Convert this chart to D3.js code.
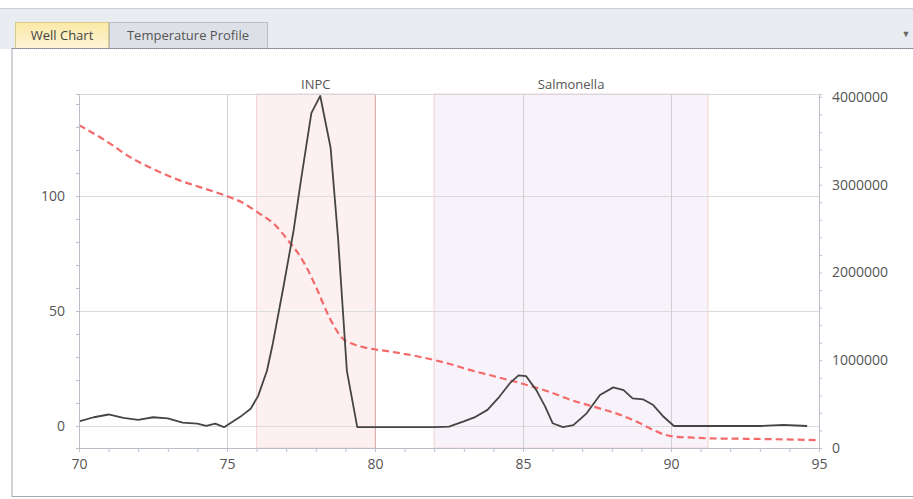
<!DOCTYPE html>
<html>
<head>
<meta charset="utf-8">
<script src="https://cdn.jsdelivr.net/npm/d3@7"></script>
<style>
  body { margin: 0; background: #fff; }
  svg { display: block; font-family: "Open Sans", "Noto Sans", sans-serif; }
</style>
</head>
<body>
<script>
// melt curve (left axis)
var meltX = [70, 70.5, 71, 71.5, 72, 72.5, 73, 73.5, 74, 74.3, 74.6, 74.9, 75.2, 75.5, 75.8, 76.05, 76.35, 76.55,
  76.9, 77.25, 77.5, 77.85, 78.15, 78.5, 78.75, 79.05, 79.4, 80, 81, 82, 82.5, 83, 83.4, 83.8, 84.2, 84.55,
  84.85, 85.1, 85.45, 85.75, 86.0, 86.35, 86.7, 87.15, 87.6, 88.05, 88.4, 88.7, 89.05, 89.4, 89.75, 90.1,
  91, 92, 93, 93.8, 94.6];
var meltY = [2, 3.8, 5, 3.5, 2.7, 3.8, 3.3, 1.5, 1, 0, 1, -0.5, 2, 4.5, 7.5, 13, 24, 36,
  60, 85, 107, 136, 143.5, 121, 82, 24, -0.5, -0.5, -0.5, -0.5, -0.3, 2, 4, 7, 12.7, 18.5,
  22, 21.7, 15.6, 8.4, 1.2, -0.5, 0.4, 5.5, 13.5, 16.8, 15.6, 12, 11.6, 9.1, 4, 0,
  0, 0, 0, 0.5, 0];

// fluorescence (right axis)
var fluoX = [70, 71, 71.7, 72.5, 73.4, 74.2, 75, 75.5, 76.1, 76.6, 77.1, 77.4, 77.7, 78.0, 78.5, 78.9, 79.3,
  79.6, 80.5, 81.5, 82.5, 83.2, 84, 84.9, 85.8, 86.6, 87.5, 88.3, 88.9, 89.4, 89.8, 90.1, 90.6, 91.3,
  92.5, 93.5, 94.9];
var fluoY = [3680000, 3480000, 3320000, 3180000, 3050000, 2960000, 2870000, 2800000, 2670000, 2550000, 2350000,
  2220000, 2050000, 1840000, 1460000, 1250000, 1180000, 1150000, 1100000, 1040000, 960000, 890000, 820000,
  740000, 650000, 550000, 460000, 376000, 290000, 205000, 150000, 130000, 120000, 110000, 105000, 100000, 90000];

// marked regions
var regionNames = ["INPC", "Salmonella"];
var regionStart = [76, 82];
var regionEnd = [80, 91.25];

var xTicks = [70, 75, 80, 85, 90, 95];
var leftTicks = [0, 50, 100];
var rightTicks = [0, 1000000, 2000000, 3000000, 4000000];

var width = 913, height = 499;
var svg = d3.select("body").append("svg")
    .attr("width", width)
    .attr("height", height);

// window chrome: gray bar, tabs, panel
svg.append("rect").attr("x", 0).attr("y", 8).attr("width", width).attr("height", 41).attr("fill", "#e9ecf0");
svg.append("line").attr("x1", 0).attr("x2", width).attr("y1", 8.5).attr("y2", 8.5).attr("stroke", "#c9cdd3");

var grad = svg.append("defs").append("linearGradient").attr("id", "tabGrad")
    .attr("x1", 0).attr("y1", 0).attr("x2", 0).attr("y2", 1);
grad.append("stop").attr("offset", "0%").attr("stop-color", "#fbe9a6");
grad.append("stop").attr("offset", "100%").attr("stop-color", "#fdf4d6");

svg.append("rect").attr("x", 15.5).attr("y", 22.5).attr("width", 93).attr("height", 26)
    .attr("fill", "url(#tabGrad)").attr("stroke", "#d8c98a");
svg.append("rect").attr("x", 109.5).attr("y", 22.5).attr("width", 158).attr("height", 26)
    .attr("fill", "#dde1e7").attr("stroke", "#b8bdc5");
svg.append("text").attr("x", 62).attr("y", 40).attr("text-anchor", "middle")
    .attr("font-size", 13).attr("fill", "#444").text("Well Chart");
svg.append("text").attr("x", 188).attr("y", 40).attr("text-anchor", "middle")
    .attr("font-size", 13).attr("fill", "#555").text("Temperature Profile");
svg.append("text").attr("x", 906).attr("y", 37).attr("text-anchor", "middle")
    .attr("font-size", 9).attr("fill", "#666").text("▼");

svg.append("rect").attr("x", 12).attr("y", 48.5).attr("width", width).attr("height", 448)
    .attr("fill", "#fff").attr("stroke", "#a3a8ae");
svg.append("line").attr("x1", 12).attr("x2", width).attr("y1", 48.5).attr("y2", 48.5)
    .attr("stroke", "#7f8590").attr("stroke-dasharray", "1,1");

// scales
var x = d3.scaleLinear().domain([70, 95]).range([79, 819]);
var yL = d3.scaleLinear().domain([-9.57, 144.35]).range([448, 94]);
var yR = d3.scaleLinear().domain([0, 4034000]).range([448, 94]);

var plot = svg.append("g");

// region bands
plot.selectAll(".band")
    .data(regionNames)
    .enter().append("rect")
    .attr("x", function(d, i) { return x(regionStart[i]); })
    .attr("y", yL.range()[1])
    .attr("width", function(d, i) { return x(regionEnd[i]) - x(regionStart[i]); })
    .attr("height", yL.range()[0] - yL.range()[1])
    .attr("fill", function(d, i) { return i == 0 ? "#fdf0f0" : "#f8f3fa"; })
    .attr("stroke", "#f3d2d2");

// grid
plot.selectAll(".hgrid")
    .data(leftTicks)
    .enter().append("line")
    .attr("x1", x(70)).attr("x2", x(95))
    .attr("y1", function(d) { return Math.round(yL(d)) + 0.5; })
    .attr("y2", function(d) { return Math.round(yL(d)) + 0.5; })
    .attr("stroke", "#dcdcdc");

plot.selectAll(".vgrid")
    .data([75, 80, 85, 90])
    .enter().append("line")
    .attr("x1", function(d) { return Math.round(x(d)) + 0.5; })
    .attr("x2", function(d) { return Math.round(x(d)) + 0.5; })
    .attr("y1", 94).attr("y2", 448)
    .attr("stroke", function(d) { return d == 80 ? "#d9b3b3" : "#cfcfd4"; });

plot.append("line").attr("x1", x(70)).attr("x2", x(95)).attr("y1", 94.5).attr("y2", 94.5)
    .attr("stroke", "#d4d8de");

// region labels
plot.selectAll(".bandLabel")
    .data(regionNames)
    .enter().append("text")
    .attr("x", function(d, i) { return x((regionStart[i] + regionEnd[i]) / 2); })
    .attr("y", 89)
    .attr("text-anchor", "middle")
    .attr("font-size", 13)
    .attr("fill", "#555")
    .text(function(d) { return d; });

// axes
function styleAxis(g) {
    g.select(".domain").attr("stroke", "#b9c0ca");
    g.selectAll(".tick line").attr("stroke", "#b9c0ca");
    g.selectAll(".tick text").attr("fill", "#555").attr("font-size", 14)
        .attr("font-family", "\"Open Sans\", sans-serif");
}

var xMinor = d3.range(70, 96, 1);
svg.append("g")
    .attr("transform", "translate(0,448)")
    .call(d3.axisBottom(x).tickValues(xMinor).tickSize(4).tickPadding(7)
        .tickFormat(function(d) { return xTicks.indexOf(d) >= 0 ? d : ""; }))
    .call(styleAxis);

var leftMinor = d3.range(0, 141, 10);
svg.append("g")
    .attr("transform", "translate(79,0)")
    .call(d3.axisLeft(yL).tickValues(leftMinor).tickSize(3).tickPadding(11)
        .tickFormat(function(d) { return leftTicks.indexOf(d) >= 0 ? d : ""; }))
    .call(styleAxis);

var rightMinor = d3.range(0, 4000001, 200000);
svg.append("g")
    .attr("transform", "translate(819,0)")
    .call(d3.axisRight(yR).tickValues(rightMinor).tickSize(3).tickPadding(10)
        .tickFormat(function(d) { return rightTicks.indexOf(d) >= 0 ? d : ""; }))
    .call(styleAxis);

// fluorescence line
var fluoLine = d3.line()
    .x(function(d, i) { return x(fluoX[i]); })
    .y(function(d) { return yR(d); })
    .curve(d3.curveMonotoneX);

plot.append("path")
    .datum(fluoY)
    .attr("d", fluoLine)
    .attr("fill", "none")
    .attr("stroke", "#f46a6a")
    .attr("stroke-width", 2.2)
    .attr("stroke-dasharray", "7,4");

// melt line
var meltLine = d3.line()
    .x(function(d, i) { return x(meltX[i]); })
    .y(function(d) { return yL(d); });

plot.append("path")
    .datum(meltY)
    .attr("d", meltLine)
    .attr("fill", "none")
    .attr("stroke", "#454545")
    .attr("stroke-width", 1.8)
    .attr("stroke-linejoin", "round");
</script>
</body>
</html>
